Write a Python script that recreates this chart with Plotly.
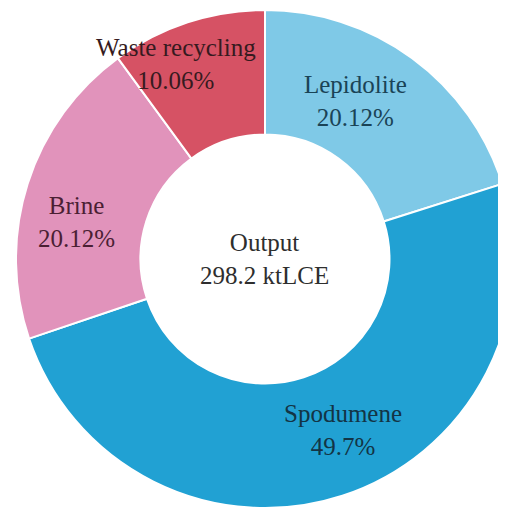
import math
import plotly.graph_objects as go

# ---- data ----
categories = ["Lepidolite", "Spodumene", "Brine", "Waste recycling"]
shares = [20.12, 49.7, 20.12, 10.06]
center_title = "Output"
center_value = "298.2 ktLCE"

# ---- style ----
W, H = 506, 511
slice_colors = ["#7fc9e7", "#21a1d3", "#e193bb", "#d65264"]
label_colors = ["#1a4356", "#133445", "#4a2033", "#361a20"]
label_radius_frac = [0.73, 0.755, 0.77, 0.86]   # radial placement of labels
label_angle_shift = -6.5                        # degrees
hole = 0.5
dom_x = [0.0158, 1.0]
dom_y = [0.0215, 0.9961]
font_family = "Liberation Serif"

fig = go.Figure(go.Pie(
    labels=categories,
    values=shares,
    sort=False,
    direction="clockwise",
    rotation=0,
    hole=hole,
    marker=dict(colors=slice_colors, line=dict(color="white", width=2)),
    textinfo="none",
    hoverinfo="label+percent",
    domain=dict(x=dom_x, y=dom_y),
    showlegend=False,
))

# pie geometry in pixels (plotly: radius = half of the smaller domain side)
dw = (dom_x[1] - dom_x[0]) * W
dh = (dom_y[1] - dom_y[0]) * H
R = min(dw, dh) / 2
cx = (dom_x[0] + dom_x[1]) / 2
cy = (dom_y[0] + dom_y[1]) / 2

annotations = []
total = sum(shares)
cum = 0.0
for i, (cat, v) in enumerate(zip(categories, shares)):
    mid = (cum + v / 2) / total * 360 + label_angle_shift
    cum += v
    r = label_radius_frac[i] * R
    x = cx + r * math.sin(math.radians(mid)) / W
    y = cy + r * math.cos(math.radians(mid)) / H
    annotations.append(dict(
        x=x, y=y, xref="paper", yref="paper", showarrow=False,
        text=f"{cat}<br>{v:g}%",
        font=dict(family=font_family, size=25, color=label_colors[i]),
        xanchor="center", yanchor="middle", align="center",
    ))

annotations.append(dict(
    x=cx, y=cy, xref="paper", yref="paper", showarrow=False,
    text=f"{center_title}<br>{center_value}",
    font=dict(family=font_family, size=25, color="#2e2e2e"),
    xanchor="center", yanchor="middle", align="center",
))

fig.update_layout(
    width=W, height=H,
    margin=dict(l=0, r=0, t=0, b=0),
    paper_bgcolor="white", plot_bgcolor="white",
    font=dict(family=font_family),
    annotations=annotations,
)

fig.write_html("out.html")
